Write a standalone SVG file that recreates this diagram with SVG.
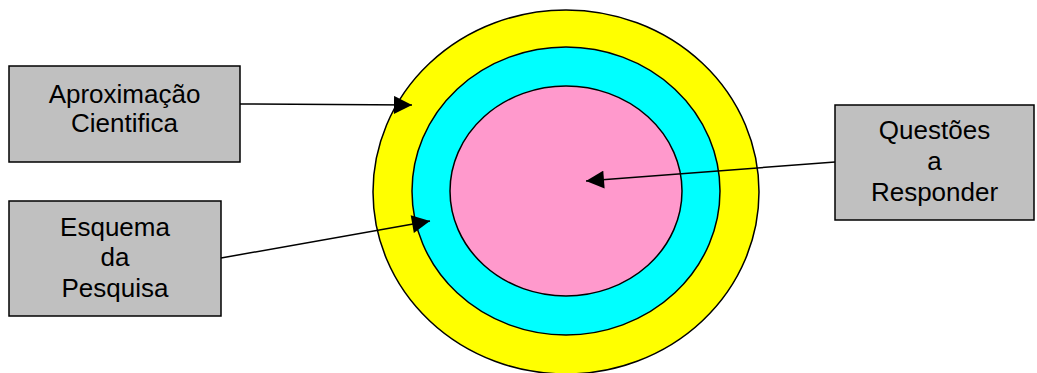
<svg xmlns="http://www.w3.org/2000/svg" width="1037" height="373" viewBox="0 0 1037 373">
<style>
.box{fill:#c0c0c0;stroke:#000;stroke-width:1.5}
.ring{stroke:#000;stroke-width:1.5}
.lbl{font-family:"Liberation Sans",Arial,sans-serif;font-size:26px;fill:#000;text-anchor:middle}
.conn{stroke:#000;stroke-width:1.5;fill:none;marker-end:url(#ah)}
</style>
<defs>
<marker id="ah" viewBox="0 0 10 10" refX="10" refY="5" markerWidth="19" markerHeight="18" markerUnits="userSpaceOnUse" orient="auto">
<path d="M0,0 L10,5 L0,10 Z" fill="#000"/>
</marker>
</defs>
<rect width="1037" height="373" fill="#fff"/>
<g id="outer-ring"><ellipse class="ring" cx="566" cy="192" rx="193" ry="182" fill="#ffff00"/></g>
<g id="middle-ring"><ellipse class="ring" cx="566" cy="191" rx="154" ry="144" fill="#00ffff"/></g>
<g id="inner-core"><ellipse class="ring" cx="566" cy="191" rx="116" ry="105" fill="#ff99cc"/></g>
<g id="aproximacao">
<rect class="box" x="9" y="66" width="231" height="96"/>
<text class="lbl" x="124.5" y="103">Aproximação</text>
<text class="lbl" x="124.5" y="132">Cientifica</text>
</g>
<g id="esquema">
<rect class="box" x="9" y="201" width="212" height="115"/>
<text class="lbl" x="115" y="236">Esquema</text>
<text class="lbl" x="115" y="266">da</text>
<text class="lbl" x="115" y="297">Pesquisa</text>
</g>
<g id="questoes">
<rect class="box" x="835" y="105" width="199" height="115"/>
<text class="lbl" x="934.5" y="139">Questões</text>
<text class="lbl" x="934.5" y="170">a</text>
<text class="lbl" x="934.5" y="201">Responder</text>
</g>
<g id="connectors">
<path class="conn" d="M240,104 L412,105"/>
<path class="conn" d="M221,258 L430,221"/>
<path class="conn" d="M835,162 L586,181"/>
</g>
</svg>
